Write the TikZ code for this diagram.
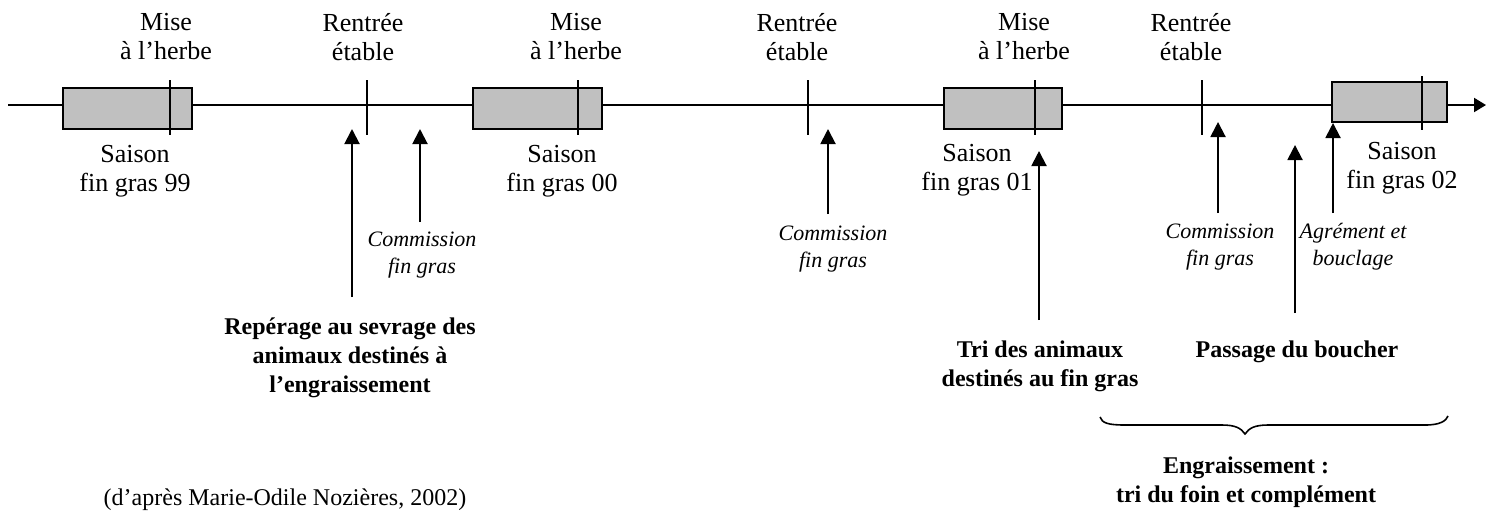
\documentclass[tikz,border=0pt]{standalone}
\usepackage{fontspec}
\setmainfont{Liberation Serif}
\usetikzlibrary{arrows.meta}
\definecolor{boxgray}{HTML}{C0C0C0}
\begin{document}
\begin{tikzpicture}[x=0.5pt,y=-0.5pt,
  lbl/.style={align=center,font=\fontsize{13}{14.5}\selectfont,inner sep=0pt},
  blbl/.style={align=center,font=\fontsize{12}{14.5}\selectfont\bfseries,inner sep=0pt},
  slbl/.style={align=center,font=\fontsize{11}{13.5}\selectfont\itshape,inner sep=0pt},
  season/.style={draw=black,line width=1pt,fill=boxgray},
  tickline/.style={line width=0.8pt},
  uparrow/.style={line width=1pt,-{Triangle[length=7.5pt,width=7.5pt]}},
]
\useasboundingbox (0,0) rectangle (1486,511);

% main time line
\coordinate (start) at (8,105);
\coordinate (end) at (1486,105);
\draw[line width=1pt,-{Triangle[length=6pt,width=7pt]}] (start) -- (end);

% seasons
\draw[season] (63,88) rectangle (192,129);
\draw[season] (473,88) rectangle (602,129);
\draw[season] (944,88) rectangle (1062,129);
\draw[season] (1332,82) rectangle (1447,122);

% ticks
\foreach \x/\n in {170/t1,367/t2,578/t3,808/t4,1035/t5,1202/t6}{
  \coordinate (\n a) at (\x,80);
  \coordinate (\n b) at (\x,135);
  \draw[tickline] (\n a) -- (\n b);
}
\coordinate (t7a) at (1422,76);
\coordinate (t7b) at (1422,130);
\draw[tickline] (t7a) -- (t7b);

% top labels
\node[lbl] (mise1) at (166,37) {Mise\\à l’herbe};
\node[lbl] (rent1) at (363,37) {Rentrée\\étable};
\node[lbl] (mise2) at (576,37) {Mise\\à l’herbe};
\node[lbl] (rent2) at (797,37) {Rentrée\\étable};
\node[lbl] (mise3) at (1024,37) {Mise\\à l’herbe};
\node[lbl] (rent3) at (1191,37) {Rentrée\\étable};

% season labels
\node[lbl] (s99) at (135,171) {Saison\\fin gras 99};
\node[lbl] (s00) at (562,171) {Saison\\fin gras 00};
\node[lbl] (s01) at (977,170) {Saison\\fin gras 01};
\node[lbl] (s02) at (1402,168) {Saison\\fin gras 02};

% script labels
\node[slbl] (com1) at (422,255) {Commission\\fin gras};
\node[slbl] (com2) at (833,249) {Commission\\fin gras};
\node[slbl] (com3) at (1220,247) {Commission\\fin gras};
\node[slbl] (agr) at (1353,247) {Agrément et\\bouclage};

% bold labels
\node[blbl] (rep) at (350,358) {Repérage au sevrage des\\animaux destinés à\\l’engraissement};
\node[blbl] (tri) at (1040,366) {Tri des animaux\\destinés au fin gras};
\node[blbl] (pass) at (1297,352) {Passage du boucher};
\node[blbl] (eng) at (1246,482) {Engraissement :\\tri du foin et complément};

% caption
\node[lbl,font=\fontsize{12}{14}\selectfont] (src) at (285,500) {(d’après Marie-Odile Nozières, 2002)};

% arrows
\coordinate (a1b) at (352,297); \coordinate (a1t) at (352,129);
\coordinate (a2b) at (420,222); \coordinate (a2t) at (420,129);
\coordinate (a3b) at (828,214); \coordinate (a3t) at (828,129);
\coordinate (a4b) at (1039,320); \coordinate (a4t) at (1039,151);
\coordinate (a5b) at (1218,213); \coordinate (a5t) at (1218,122);
\coordinate (a6b) at (1295,313); \coordinate (a6t) at (1295,145);
\coordinate (a7b) at (1333,213); \coordinate (a7t) at (1333,123);
\foreach \n in {a1,a2,a3,a4,a5,a6,a7}{
  \draw[uparrow] (\n b) -- (\n t);
}

% brace
\coordinate (bl) at (1100,417);
\coordinate (br) at (1448,416);
\coordinate (btip) at (1245,434);
\draw[line width=0.8pt] (bl) .. controls (1102,423) and (1108,425) .. (1125,425)
  -- (1222,425) .. controls (1235,425) and (1241,428) .. (btip)
  .. controls (1249,428) and (1255,425) .. (1268,425)
  -- (1425,425) .. controls (1440,425) and (1446,421) .. (br);
\end{tikzpicture}
\end{document}
